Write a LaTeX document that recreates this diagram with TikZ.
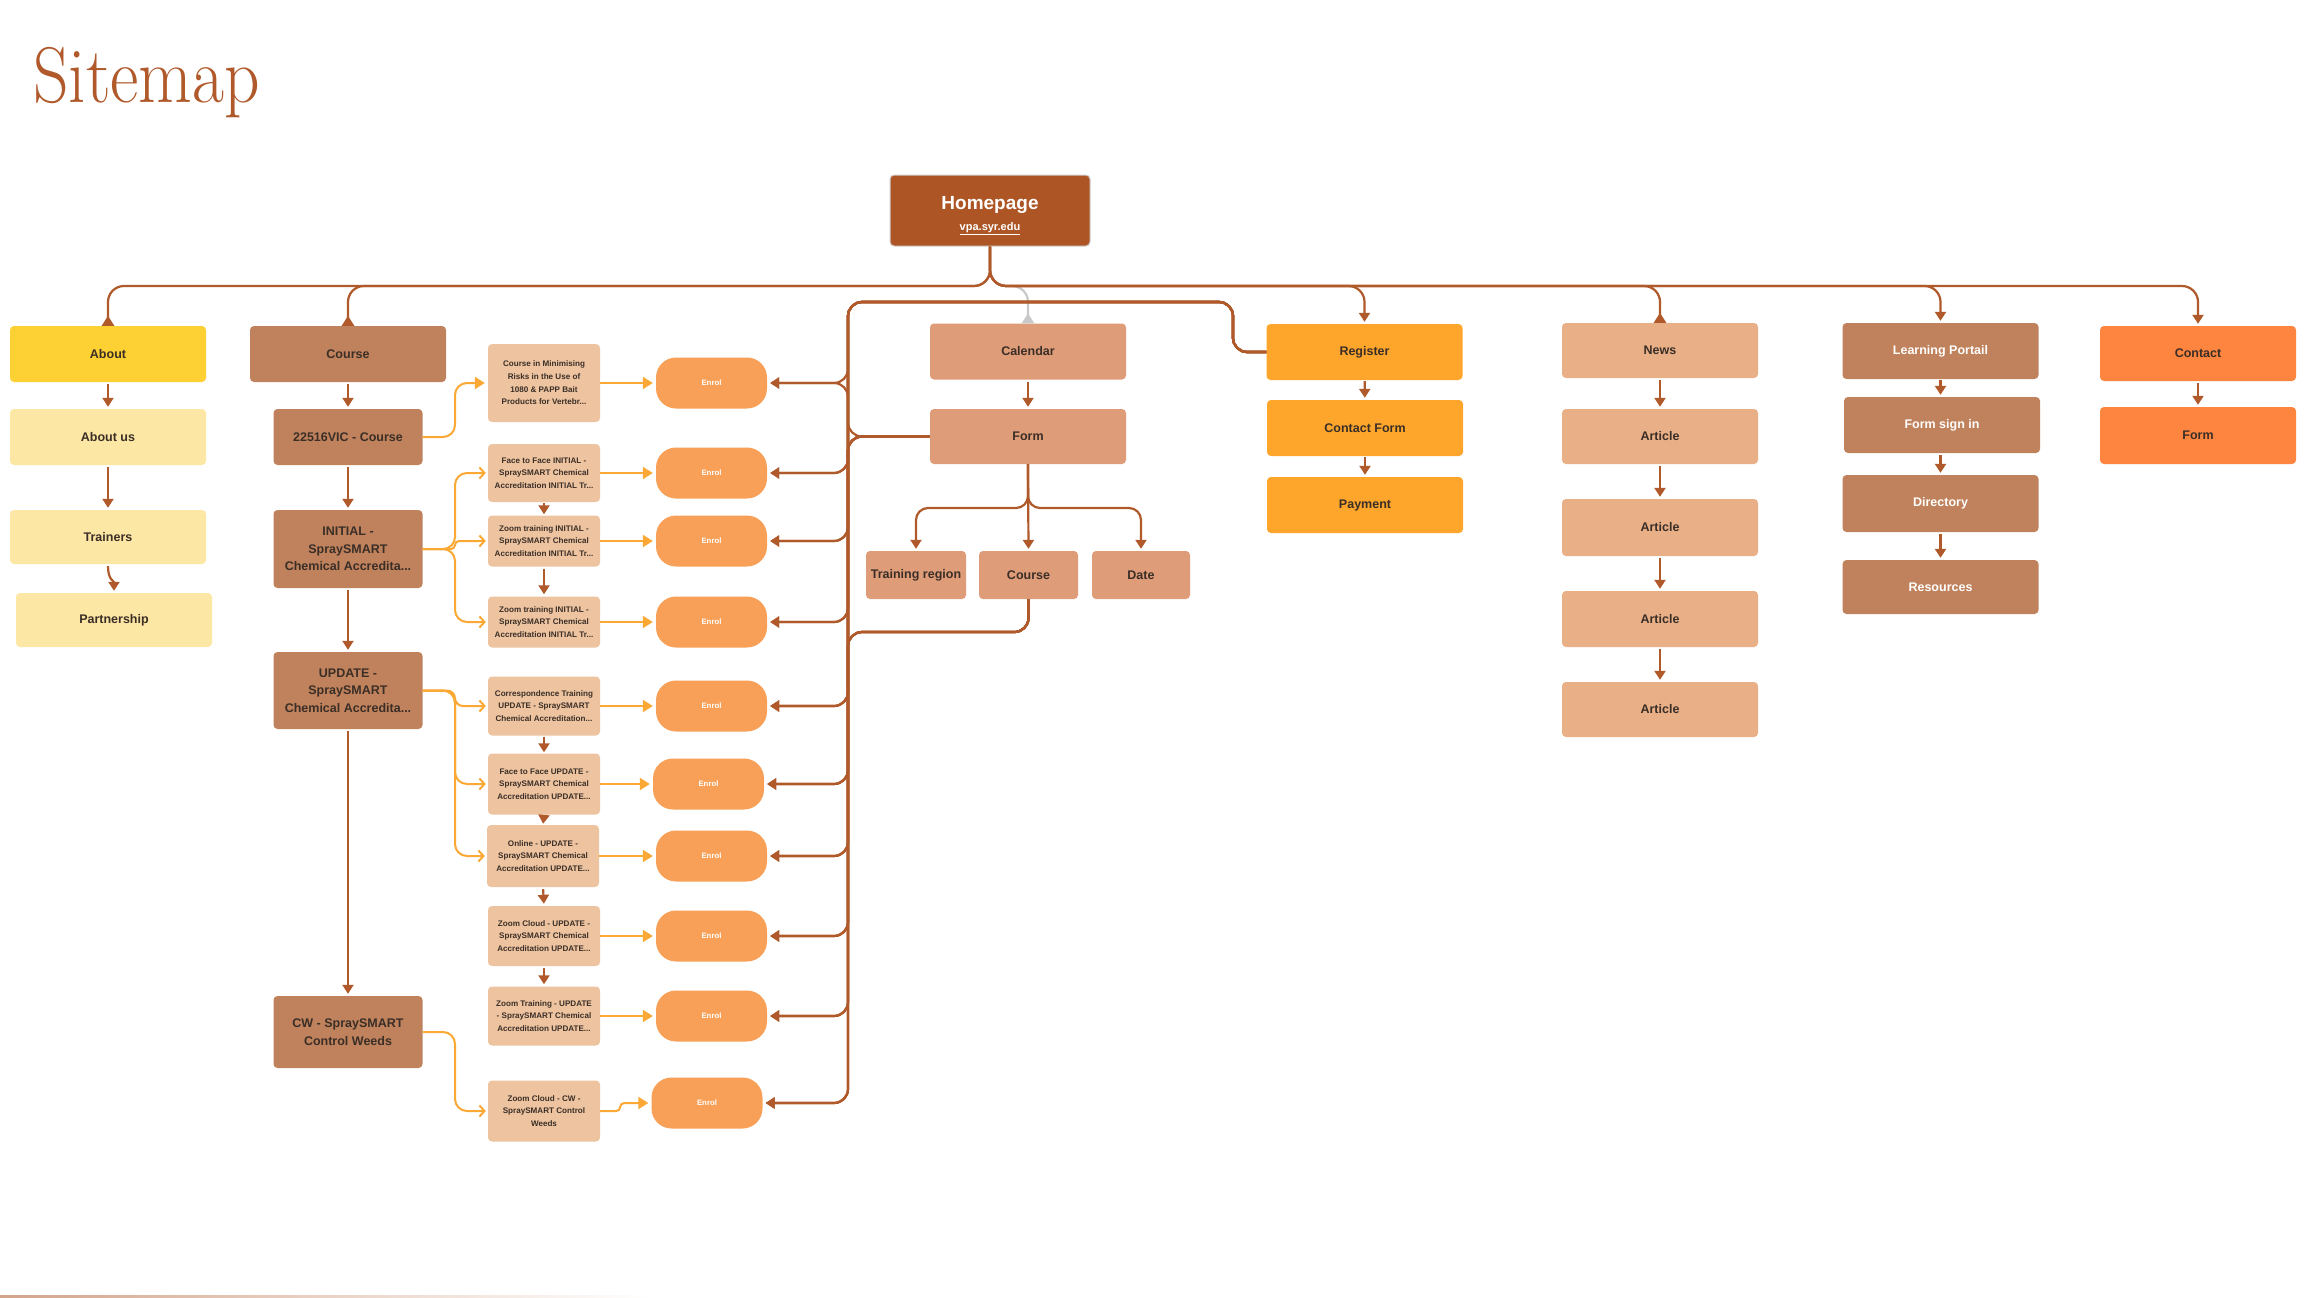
\documentclass[tikz,border=0pt]{standalone}
\usepackage{fontspec}
\setsansfont{Liberation Sans}
\usetikzlibrary{arrows.meta}
\definecolor{brn}{HTML}{B0592A}
\definecolor{orn}{HTML}{FBA834}
\definecolor{txt}{HTML}{3A2E27}
\definecolor{cHome}{HTML}{AE5525}
\definecolor{cAbout}{HTML}{FDD034}
\definecolor{cAboutL}{HTML}{FDE7A4}
\definecolor{cCourse}{HTML}{C0825C}
\definecolor{cMid}{HTML}{EEC4A0}
\definecolor{cEnrol}{HTML}{F8A057}
\definecolor{cCal}{HTML}{DF9C78}
\definecolor{cReg}{HTML}{FDA62B}
\definecolor{cNews}{HTML}{E9B087}
\definecolor{cContact}{HTML}{FD853F}
\definecolor{greyc}{HTML}{C9C9C9}
\begin{document}
\begin{tikzpicture}[x=1pt,y=-1pt,
  bx/.style={rectangle,rounded corners=4pt,inner sep=0pt,align=center,text=txt,font=\sffamily\bfseries\fontsize{12.5}{17.5}\selectfont},
  wbox/.style={minimum width=196pt},
  midbox/.style={bx,fill=cMid,minimum width=112pt,font=\sffamily\bfseries\fontsize{8.1}{12.6}\selectfont},
  enrolbox/.style={rectangle,rounded corners=20pt,inner sep=0pt,fill=cEnrol,text=white,minimum width=111pt,minimum height=51pt,font=\sffamily\bfseries\fontsize{7.8}{10}\selectfont},
  conn/.style={draw=brn,line width=2.2pt,rounded corners=14pt},
  oconn/.style={draw=orn,line width=2pt,rounded corners=12pt},
  tipd/.style={-{Triangle[width=11pt,length=9pt]}},
  tipu/.style={{Triangle[reversed,width=12pt,length=10pt]}-},
  otri/.style={-{Triangle[width=12pt,length=10pt]},shorten >=3pt},
  ochev/.style={-{Straight Barb[width=11pt,length=5pt]},shorten >=2pt},
]
\fill[white] (0,0) rectangle (2307,1298);
\useasboundingbox (0,0) rectangle (2307,1298);
\shade[left color=brn!55,right color=white] (0,1295.5) rectangle (650,1298);

% title
\node[anchor=base west,inner sep=0pt,text=brn,font=\fontsize{79}{79}\selectfont,xscale=0.88] (title) at (33,102) {Sitemap};

% homepage
\node[bx,fill=cHome,draw=black!18,line width=1pt,minimum width=200pt,minimum height=71pt,text=white,font=\sffamily\bfseries\fontsize{19}{21}\selectfont] (home) at (990,210.5) {\rule{0pt}{24pt}Homepage\\{\fontsize{11}{12}\selectfont\underline{vpa.syr.edu}}};

% about column
\node[bx,wbox,fill=cAbout,minimum height=56pt] (about) at (108,354) {About};
\node[bx,wbox,fill=cAboutL,minimum height=56pt] (aboutus) at (108,437) {About us};
\node[bx,wbox,fill=cAboutL,minimum height=54pt] (trainers) at (108,537) {Trainers};
\node[bx,wbox,fill=cAboutL,minimum height=54pt] (partner) at (114,620) {Partnership};

% course column
\node[bx,wbox,fill=cCourse,minimum height=56pt] (course) at (348,354) {Course};
\node[bx,fill=cCourse,minimum width=149pt,minimum height=56pt] (vic) at (348,437) {22516VIC - Course};
\node[bx,fill=cCourse,minimum width=149pt,minimum height=78pt] (init) at (348,549) {INITIAL -\\SpraySMART\\Chemical Accredita...};
\node[bx,fill=cCourse,minimum width=149pt,minimum height=77pt] (upd) at (348,690.5) {UPDATE -\\SpraySMART\\Chemical Accredita...};
\node[bx,fill=cCourse,minimum width=149pt,minimum height=72pt] (cw) at (348,1032) {CW - SpraySMART\\Control Weeds};

% middle column
\node[midbox,minimum height=78pt] (mini) at (544,383) {Course in Minimising\\Risks in the Use of\\1080 \& PAPP Bait\\Products for Vertebr...};
\node[midbox,minimum height=58pt] (f2fi) at (544,473) {Face to Face INITIAL -\\SpraySMART Chemical\\Accreditation INITIAL Tr...};
\node[midbox,minimum height=51pt] (zi1) at (544,541) {Zoom training INITIAL -\\SpraySMART Chemical\\Accreditation INITIAL Tr...};
\node[midbox,minimum height=51pt] (zi2) at (544,622) {Zoom training INITIAL -\\SpraySMART Chemical\\Accreditation INITIAL Tr...};
\node[midbox,minimum height=59pt] (corr) at (544,706) {Correspondence Training\\UPDATE - SpraySMART\\Chemical Accreditation...};
\node[midbox,minimum height=61pt] (f2fu) at (544,784) {Face to Face UPDATE -\\SpraySMART Chemical\\Accreditation UPDATE...};
\node[midbox,minimum height=62pt] (online) at (543,856) {Online - UPDATE -\\SpraySMART Chemical\\Accreditation UPDATE...};
\node[midbox,minimum height=60pt] (zcu) at (544,936) {Zoom Cloud - UPDATE -\\SpraySMART Chemical\\Accreditation UPDATE...};
\node[midbox,minimum height=59pt] (ztu) at (544,1016) {Zoom Training - UPDATE\\- SpraySMART Chemical\\Accreditation UPDATE...};
\node[midbox,minimum height=61pt] (zccw) at (544,1111) {Zoom Cloud - CW -\\SpraySMART Control\\Weeds};

% enrol column
\node[enrolbox] (e1) at (711.5,383) {Enrol};
\node[enrolbox] (e2) at (711.5,473) {Enrol};
\node[enrolbox] (e3) at (711.5,541) {Enrol};
\node[enrolbox] (e4) at (711.5,622) {Enrol};
\node[enrolbox] (e5) at (711.5,706) {Enrol};
\node[enrolbox] (e6) at (708.5,784) {Enrol};
\node[enrolbox] (e7) at (711.5,856) {Enrol};
\node[enrolbox] (e8) at (711.5,936) {Enrol};
\node[enrolbox] (e9) at (711.5,1016) {Enrol};
\node[enrolbox] (e10) at (707,1103) {Enrol};

% calendar
\node[bx,wbox,fill=cCal,minimum height=56pt] (cal) at (1028,351.5) {Calendar};
\node[bx,wbox,fill=cCal,minimum height=55pt] (form) at (1028,436.5) {Form};
\node[bx,fill=cCal,minimum width=100pt,minimum height=48pt] (treg) at (916,575) {Training region};
\node[bx,fill=cCal,minimum width=99pt,minimum height=48pt] (ccourse) at (1028.5,575) {Course};
\node[bx,fill=cCal,minimum width=98pt,minimum height=48pt] (date) at (1141,575) {Date};

% register
\node[bx,wbox,fill=cReg,minimum height=56pt] (reg) at (1364.5,352) {Register};
\node[bx,wbox,fill=cReg,minimum height=56pt] (cform) at (1365,428) {Contact Form};
\node[bx,wbox,fill=cReg,minimum height=56pt] (pay) at (1365,505) {Payment};

% news
\node[bx,wbox,fill=cNews,minimum height=55pt] (news) at (1660,350.5) {News};
\node[bx,wbox,fill=cNews,minimum height=55pt] (art1) at (1660,436.5) {Article};
\node[bx,wbox,fill=cNews,minimum height=57pt] (art2) at (1660,527.5) {Article};
\node[bx,wbox,fill=cNews,minimum height=56pt] (art3) at (1660,619) {Article};
\node[bx,wbox,fill=cNews,minimum height=55pt] (art4) at (1660,709.5) {Article};

% learning portail
\node[bx,wbox,fill=cCourse,minimum height=56pt,text=white] (lp) at (1940.5,351) {Learning Portail};
\node[bx,wbox,fill=cCourse,minimum height=56pt,text=white] (fsi) at (1942,425) {Form sign in};
\node[bx,wbox,fill=cCourse,minimum height=57pt,text=white] (dir) at (1940.5,503.5) {Directory};
\node[bx,wbox,fill=cCourse,minimum height=54pt,text=white] (res) at (1940.5,587) {Resources};

% contact
\node[bx,wbox,fill=cContact,minimum height=55pt] (contact) at (2198,353.5) {Contact};
\node[bx,wbox,fill=cContact,minimum height=57pt] (cfm) at (2198,435.5) {Form};

% ---------- connectors ----------
\coordinate (hb) at (990,286);
\draw[conn,draw=greyc,tipu,rounded corners=16pt] (cal.north) |- (hb) -- (home.south);
\draw[conn,tipu,rounded corners=16pt] (about.north) |- (hb) -- (home.south);
\draw[conn,tipu,rounded corners=16pt] (course.north) |- (hb) -- (home.south);
\draw[conn,tipu,rounded corners=16pt] (news.north) |- (hb) -- (home.south);
\draw[conn,tipd,rounded corners=16pt,shorten >=2pt] (home.south) -- (hb) -| (reg.north);
\draw[conn,tipd,rounded corners=16pt,shorten >=2pt] (home.south) -- (hb) -| (lp.north);
\draw[conn,tipd,rounded corners=16pt,shorten >=2pt] (home.south) -- (hb) -| (contact.north);

% vertical chains
\draw[conn,tipd,shorten >=2pt,shorten <=2pt] (about) -- (aboutus);
\draw[conn,tipd,shorten >=2pt,shorten <=2pt] (aboutus) -- (trainers);
\draw[conn,tipd,shorten >=2pt,shorten <=2pt] (trainers.south) .. controls +(0,16) and +(0,-12) .. (partner.north);
\draw[conn,tipd,shorten >=2pt,shorten <=2pt] (course) -- (vic);
\draw[conn,tipd,shorten >=2pt,shorten <=2pt] (vic) -- (init);
\draw[conn,tipd,shorten >=2pt,shorten <=2pt] (init) -- (upd);
\draw[conn,tipd,shorten >=2pt,shorten <=2pt] (upd) -- (cw);
\draw[conn,tipd,shorten >=1pt,shorten <=1pt] (f2fi) -- (zi1);
\draw[conn,tipd,shorten >=2pt,shorten <=2pt] (zi1) -- (zi2);
\draw[conn,tipd,shorten >=1pt,shorten <=1pt] (corr) -- (f2fu);
\draw[conn,tipd,shorten >=1pt,shorten <=1pt] (f2fu.south) -- (online.north);
\draw[conn,tipd,shorten >=2pt,shorten <=2pt] (online.south) -- (zcu.north);
\draw[conn,tipd,shorten >=2pt,shorten <=2pt] (zcu) -- (ztu);
\draw[conn,tipd,shorten >=2pt,shorten <=2pt] (cal) -- (form);
\draw[conn,tipd,shorten >=2pt,rounded corners=12pt] (form.south) |- (916,508) -- (treg.north);
\draw[conn,tipd,shorten >=2pt] (form.south) -- (ccourse.north);
\draw[conn,tipd,shorten >=2pt,rounded corners=12pt] (form.south) |- (1141,508) -- (date.north);
\draw[conn,tipd,shorten >=2pt,shorten <=1pt] (reg) -- (cform);
\draw[conn,tipd,shorten >=2pt,shorten <=1pt] (cform) -- (pay);
\draw[conn,tipd,shorten >=2pt,shorten <=2pt] (news) -- (art1);
\draw[conn,tipd,shorten >=2pt,shorten <=2pt] (art1) -- (art2);
\draw[conn,tipd,shorten >=2pt,shorten <=2pt] (art2) -- (art3);
\draw[conn,tipd,shorten >=2pt,shorten <=2pt] (art3) -- (art4);
\draw[conn,tipd,shorten >=2pt,shorten <=1pt] (lp.south) -- (lp.south |- fsi.north);
\draw[conn,tipd,shorten >=2pt,shorten <=2pt] (fsi.south -| dir.north) -- (dir.north);
\draw[conn,tipd,shorten >=2pt,shorten <=2pt] (dir) -- (res);
\draw[conn,tipd,shorten >=2pt,shorten <=2pt] (contact) -- (cfm);

% trunk to enrol
\foreach \e in {e1,e2,e3,e4,e5,e6,e7,e8,e9,e10}{
  \draw[conn,tipd,shorten >=3pt] (reg.west) -| (1233,302) -- (848,302) |- (\e.east);
  \draw[conn,tipd,shorten >=3pt] (form.west) -- (848,436.5) |- (\e.east);
}
\foreach \e in {e5,e6,e7,e8,e9,e10}{
  \draw[conn,tipd,shorten >=3pt] (ccourse.south) |- (848,632) |- (\e.east);
}

% orange links
\draw[oconn,otri] (vic.east) -- (455,437) |- (mini.west);
\draw[oconn,ochev] (init.east) -- (455,549) |- (f2fi.west);
\draw[oconn,ochev,rounded corners=4pt] (init.east) -- (455,549) |- (zi1.west);
\draw[oconn,ochev] (init.east) -- (455,549) |- (zi2.west);
\draw[oconn,ochev,rounded corners=8pt] (upd.east) -- (455,690.5) |- (corr.west);
\draw[oconn,ochev] (upd.east) -- (455,690.5) |- (f2fu.west);
\draw[oconn,ochev] (upd.east) -- (455,690.5) |- (online.west);
\draw[oconn,ochev] (cw.east) -- (455,1032) |- (zccw.west);

\draw[oconn,otri] (mini) -- (e1);
\draw[oconn,otri] (f2fi) -- (e2);
\draw[oconn,otri] (zi1) -- (e3);
\draw[oconn,otri] (zi2) -- (e4);
\draw[oconn,otri] (corr) -- (e5);
\draw[oconn,otri] (f2fu) -- (e6);
\draw[oconn,otri] (online) -- (e7);
\draw[oconn,otri] (zcu) -- (e8);
\draw[oconn,otri] (ztu) -- (e9);
\draw[oconn,otri,rounded corners=4pt] (zccw.east) -- ++(20,0) |- (e10.west);
\end{tikzpicture}
\end{document}
